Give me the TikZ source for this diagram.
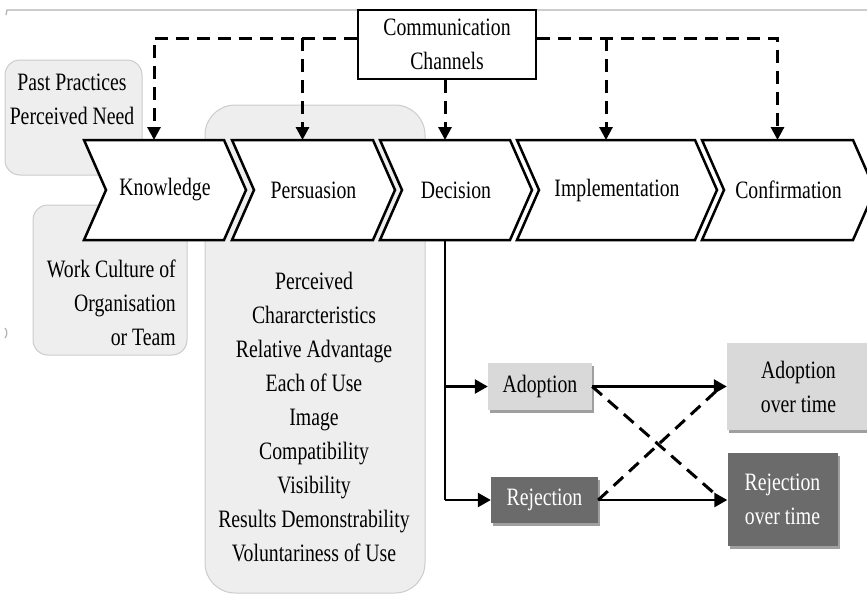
\documentclass[tikz,border=0pt]{standalone}
\usepackage{fontspec}
\setmainfont[FakeStretch=0.79]{Liberation Serif}
\usetikzlibrary{calc,arrows.meta,shadows}
\newcommand{\stagetop}{140}
\newcommand{\stagebot}{240}
\newcommand{\notch}{22}

\tikzset{
  every node/.style={font=\fontsize{25}{34}\selectfont,inner sep=0pt},
  stage/.style={draw,line width=2.5pt,fill=white,line join=miter},
  panel/.style={fill=gray!13,draw=gray!40,line width=1pt,rounded corners=#1},
  panel/.default=15pt,
  chan/.style={draw,line width=2.5pt,fill=white,align=center,minimum width=178pt,minimum height=69pt},
  result/.style={fill=#1,minimum width=104pt,minimum height=47pt,align=center,
    drop shadow={shadow xshift=2pt,shadow yshift=-2.5pt,fill=gray!75,opacity=1}},
  flow/.style={line width=2.6pt,-{Triangle[width=14pt,length=13pt]}},
  feed/.style={line width=3pt,dash pattern=on 13pt off 8pt,-{Triangle[width=13pt,length=13pt]}},
  cross/.style={line width=3pt,dash pattern=on 13pt off 8pt},
}

\begin{document}
\begin{tikzpicture}[x=1pt,y=-1pt]
  \clip (0,0) rectangle (867,595);
  \fill[white] (0,0) rectangle (867,595);

  % frame of the pasted figure
  \draw[gray!60,line width=1.2pt] (6,15) -- (7,10) -- (867,10);
  \draw[gray!60,line width=1.2pt] (433,10) -- (434,15) -- (441,15) -- (442,10);
  \draw[gray!60,line width=1.2pt] (5,328) to[bend left=40] (5,338);

  % grey panels behind the stages
  \draw[panel] (5,60) rectangle (142,175);
  \draw[panel] (33,205) rectangle (187,355);
  \draw[panel=30pt] (205,105) rectangle (425,593);

  \node (past) at (72,99) [align=center] {Past Practices\\Perceived Need};
  \node (culture) at (176,303) [anchor=east,align=right] {Work Culture of\\Organisation\\or Team};
  \node (traits) at (314,417) [align=center] {Perceived\\Chararcteristics\\Relative Advantage\\Each of Use\\Image\\Compatibility\\Visibility\\Results Demonstrability\\Voluntariness of Use};

  % the five stages
  \foreach \l/\r/\n/\t in {84/224/know/Knowledge, 232/373/pers/Persuasion, 380/510/deci/Decision, 517/695/impl/Implementation, 702/853/conf/Confirmation} {
    \draw[stage] (\l,\stagetop) -- (\r,\stagetop) -- (\r+\notch,190) -- (\r,\stagebot)
      -- (\l,\stagebot) -- (\l+\notch,190) -- cycle;
    \node (\n) at ({(\l+\notch+\r)/2},190) {\t};
    \coordinate (\n-top) at ({(\l+\r)/2},\stagetop);
  }
  \coordinate (deci-bot) at (445,\stagebot);

  % communication channels
  \node[chan] (comm) at (447,44.5) {Communication\\Channels};
  \draw[feed] (comm.west |- 0,38) -| (know-top);
  \draw[feed] (pers-top |- 0,38) -- (pers-top);
  \draw[feed] (deci-top |- comm.south) -- (deci-top);
  \draw[feed] (comm.east |- 0,38) -| (conf-top);
  \draw[feed] (impl-top |- 0,38) -- (impl-top);

  % outcomes of the decision
  \node[result=gray!30] (adopt) at (540,386.5) {Adoption};
  \node[result=black!58,text=white,minimum width=107pt,minimum height=46pt] (reject) at (544.5,500) {Rejection};
  \node[result=gray!30,minimum width=143pt,minimum height=87pt] (adtime) at (798.5,386.5) {Adoption\\over time};
  \node[result=black!58,text=white,minimum width=110pt,minimum height=93pt] (rejtime) at (782.5,499.5) {Rejection\\over time};

  \draw[line width=2.6pt] (deci-bot) -- (deci-bot |- reject.west);
  \draw[flow] (deci-bot |- adopt.west) -- (adopt.west);
  \draw[flow] (deci-bot |- reject.west) -- (reject.west);
  \draw[flow] (adopt.east) -- (adtime.west);
  \draw[flow] (reject.east) -- (reject.east -| rejtime.west);
  \draw[cross] (adopt.east) -- ($(reject.east -| rejtime.west)+(-10,-4)$);
  \draw[cross] (reject.east) -- ($(adtime.west)+(-10,4)$);
\end{tikzpicture}
\end{document}
